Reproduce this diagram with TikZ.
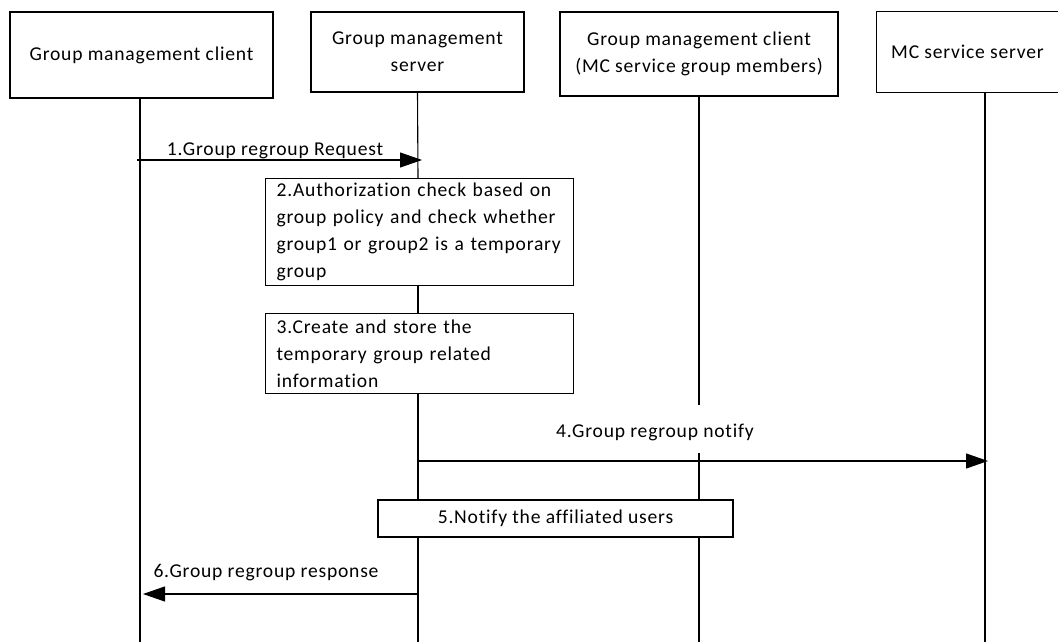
\documentclass[tikz,border=0pt]{standalone}
\usepackage{fontspec}
\setmainfont{Carlito}[LetterSpace=4,Ligatures={NoCommon}]
\usetikzlibrary{arrows.meta}
\begin{document}
\begin{tikzpicture}[x=1pt,y=-1pt,line width=1.1pt,
  every node/.style={font=\fontsize{19.6}{27}\selectfont, inner sep=0pt},
  actor/.style={draw, align=center},
  stepbox/.style={draw, align=left, inner xsep=11pt, anchor=north west},
  lbl/.style={align=center},
  msg/.style={-{Triangle[length=22pt,width=15pt]}}]
\useasboundingbox (0,0) rectangle (1058,642);
% actors
\node[actor, minimum width=263pt, minimum height=86pt] (gmc) at (141.5,55) {Group management client};
\node[actor, minimum width=213pt, minimum height=80pt] (gms) at (417.5,52) {Group management\\server};
\node[actor, minimum width=278pt, minimum height=84pt] (gmm) at (699,54) {Group management client\\(MC service group members)};
\node[minimum width=181pt, minimum height=80pt] (mcs) at (967.5,52) {MC service server};
\draw (mcs.north east) -- (mcs.north west) -- (mcs.south west) -- (mcs.south east);
% step boxes
\node[stepbox, text width=286pt, minimum height=107pt] (s2) at (265,178) {2.Authorization check based on\\group policy and check whether\\group1 or group2 is a temporary\\group};
\node[stepbox, text width=286pt, minimum height=80pt] (s3) at (265,313) {3.Create and store the\\temporary group related\\information};
\node[draw, minimum width=355pt, minimum height=37pt] (s5) at (555.5,518.5) {5.Notify the affiliated users};
% bottom / gap coordinates
\coordinate (b1) at (140,642);
\coordinate (b2) at (418,642);
\coordinate (b3) at (699,642);
\coordinate (b4) at (985,642);
\coordinate (g3a) at (699,405);
\coordinate (g3b) at (699,453);
% lifelines
\draw (140,98) -- (b1);
\draw (gms.south) -- (418,178);
\draw (418,285) -- (418,313);
\draw (418,393) -- (418,500);
\draw (418,537) -- (b2);
\draw (gmm.south) -- (g3a);
\draw (g3b) -- (699,500);
\draw (699,537) -- (b3);
\draw (985,92) -- (b4);
% messages
\coordinate (m1s) at (137,160);
\coordinate (m1e) at (422,160);
\draw[msg] (m1s) -- (m1e);
\node[lbl] (l1) at (275,151) {1.Group regroup Request};
\coordinate (m4s) at (418,461);
\coordinate (m4e) at (988,461);
\draw[msg] (m4s) -- (m4e);
\node[lbl] (l4) at (655,432) {4.Group regroup notify};
\coordinate (m6s) at (418,594);
\coordinate (m6e) at (143,594);
\draw[msg] (m6s) -- (m6e);
\node[lbl] (l6) at (266,573) {6.Group regroup response};
\end{tikzpicture}
\end{document}
